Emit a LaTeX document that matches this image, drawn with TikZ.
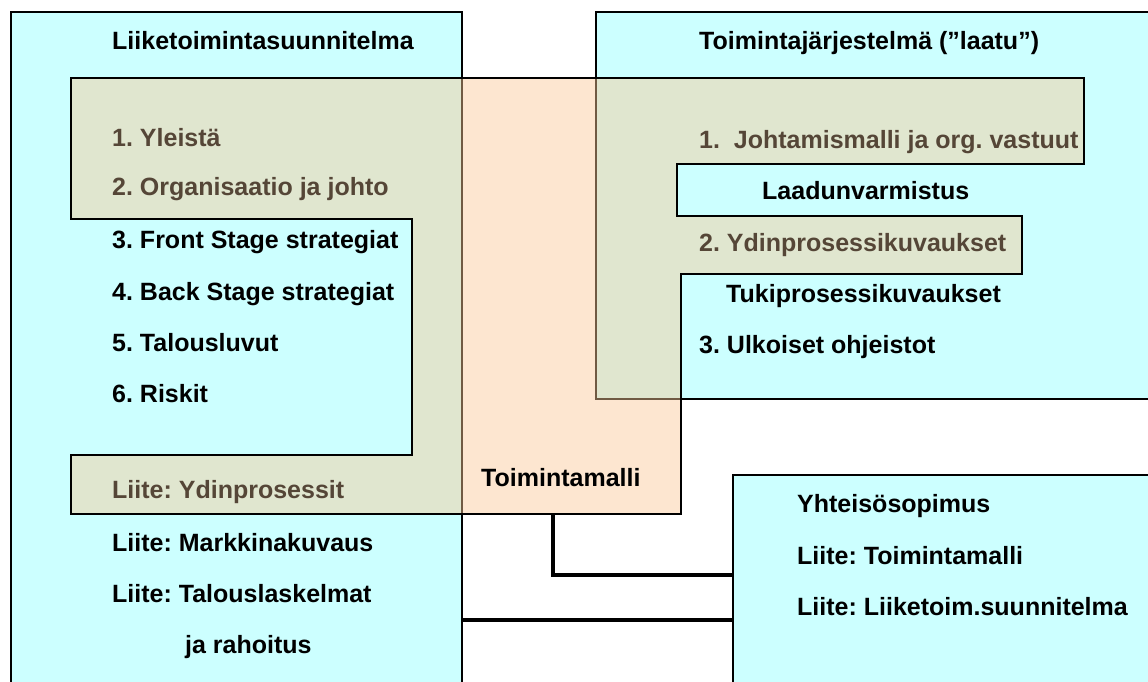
\documentclass[tikz,border=0pt]{standalone}
\usepackage{fontspec}
\setmainfont{Liberation Sans}
\frenchspacing
\definecolor{boxcyan}{RGB}{204,255,255}
\definecolor{tmorange}{RGB}{250,200,150}
\definecolor{tmtext}{RGB}{85,70,55}
\tikzset{
  box/.style={draw=black, line width=1.5pt, fill=boxcyan},
  tmshape/.style={draw=black, line width=1.8pt, fill=tmorange, fill opacity=0.45},
  link/.style={line width=4pt},
  lbl/.style={anchor=base west, inner sep=0pt, font=\fontsize{25}{30}\selectfont\bfseries},
}
\begin{document}
\begin{tikzpicture}[x=1pt, y=-1pt]
\useasboundingbox (0,0) rectangle (1148,681);
\clip (0,0) rectangle (1148,681);
\coordinate (L1) at (11,12); \coordinate (L2) at (462,700);
\coordinate (R1) at (596,12); \coordinate (R2) at (1170,399);
\coordinate (Y1) at (733,475); \coordinate (Y2) at (1170,700);
\draw[box] (L1) rectangle (L2);
\draw[box] (R1) rectangle (R2);
\draw[box] (Y1) rectangle (Y2);
% toimintamalli over both plans
\draw[tmshape] (71,78) -- (1084,78) -- (1084,164) -- (677,164) -- (677,216) -- (1022,216)
  -- (1022,274) -- (681,274) -- (681,514) -- (71,514) -- (71,455) -- (412,455) -- (412,219)
  -- (71,219) -- cycle;
\coordinate (tmB) at (553,514); \coordinate (yA) at (733,575);
\coordinate (lB) at (462,620); \coordinate (yB) at (733,620);
\draw[link] (tmB) |- (yA);
\draw[link] (lB) -- (yB);
\foreach \n/\x/\y/\c/\txt in {
  ltsTitle/112/49/black/Liiketoimintasuunnitelma,
  lts1/112/146/tmtext/1. Yleistä,
  lts2/112/195/tmtext/2. Organisaatio ja johto,
  lts3/112/248/black/3. Front Stage strategiat,
  lts4/112/300/black/4. Back Stage strategiat,
  lts5/112/351/black/5. Talousluvut,
  lts6/112/402/black/6. Riskit,
  ltsA/112/498/tmtext/Liite: Ydinprosessit,
  ltsB/112/551/black/Liite: Markkinakuvaus,
  ltsC/112/602/black/Liite: Talouslaskelmat,
  ltsD/185/653/black/ja rahoitus,
  tjTitle/699/49/black/Toimintajärjestelmä (”laatu”),
  tj1/699/148/tmtext/1.\ \ Johtamismalli ja org. vastuut,
  tjL/762/199/black/Laadunvarmistus,
  tj2/699/251/tmtext/2. Ydinprosessikuvaukset,
  tjT/726/302/black/Tukiprosessikuvaukset,
  tj3/699/353/black/3. Ulkoiset ohjeistot,
  tm/481/486/black/Toimintamalli,
  ysTitle/797/512/black/Yhteisösopimus,
  ys1/797/564/black/Liite: Toimintamalli,
  ys2/797/615/black/Liite: Liiketoim.suunnitelma} {
\node[lbl, text=\c] (\n) at (\x,\y) {\txt};}
\end{tikzpicture}
\end{document}
